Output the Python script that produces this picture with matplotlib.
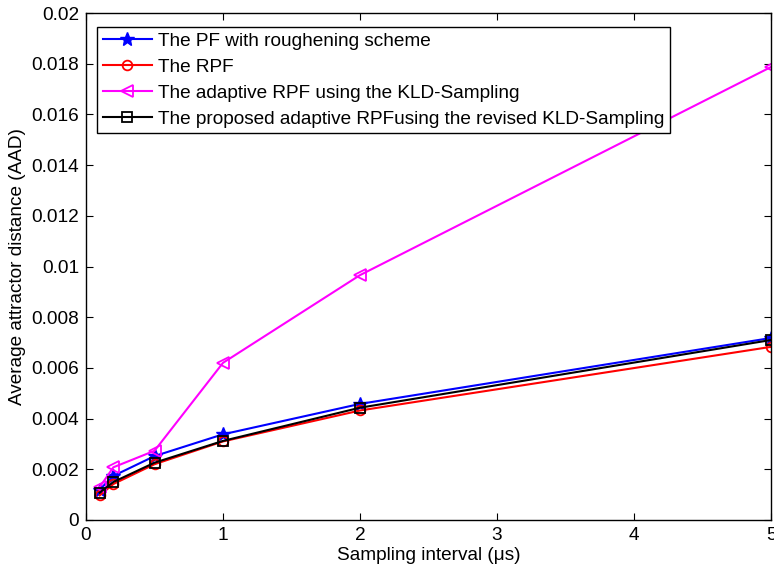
import numpy as np
import matplotlib
matplotlib.use("Agg")
import matplotlib.pyplot as plt

plt.rcParams['font.family'] = ['Liberation Sans', 'DejaVu Sans']

# intervalle d'echantillonnage (us)
x = [0.1, 0.2, 0.5, 1, 2, 5]

pf_rough = [0.00120, 0.00174, 0.00252, 0.00338, 0.00458, 0.00718]
rpf = [0.00097, 0.00142, 0.00220, 0.00310, 0.00432, 0.00683]
adaptive_kld = [0.00130, 0.00208, 0.00273, 0.00620, 0.00966, 0.01787]
proposed = [0.00108, 0.00150, 0.00226, 0.00312, 0.00443, 0.00710]

labels = ["The PF with roughening scheme",
          "The RPF",
          "The adaptive RPF using the KLD-Sampling",
          "The proposed adaptive RPFusing the revised KLD-Sampling"]

fs = 13.7

fig = plt.figure(figsize=(7.74, 5.71), dpi=100)
ax = fig.add_axes([86/774, 51/571, 685/774, 507/571])

ax.plot(x, pf_rough, color="#0000ff", lw=1.5, marker="*", ms=10, label=labels[0])
ax.plot(x, rpf, color="#ff0000", lw=1.5, marker="o", ms=7, mfc="none", mew=1.3, label=labels[1])
ax.plot(x, adaptive_kld, color="#ff00ff", lw=1.5, marker="<", ms=8, mfc="none", mew=1.3, label=labels[2])
ax.plot(x, proposed, color="black", lw=1.5, marker="s", ms=7, mfc="none", mew=1.3, label=labels[3])

ax.set_xlim(0, 5)
ax.set_ylim(0, 0.02)
ax.set_xticks([0, 1, 2, 3, 4, 5])
ax.set_yticks(np.arange(0, 0.0201, 0.002))
ax.set_yticklabels(["0", "0.002", "0.004", "0.006", "0.008", "0.01",
                    "0.012", "0.014", "0.016", "0.018", "0.02"])
ax.tick_params(direction="in", top=True, right=True, labelsize=fs, length=5, pad=5)
for s in ax.spines.values():
    s.set_linewidth(1.0)

ax.set_xlabel("Sampling interval (\u03bcs)", fontsize=fs, labelpad=2)
ax.set_ylabel("Average attractor distance (AAD)", fontsize=fs, labelpad=4)

leg = ax.legend(loc="upper left", bbox_to_anchor=(11/685, 1 - 14/507), borderaxespad=0,
                fontsize=fs, fancybox=False, framealpha=1, edgecolor="black",
                handlelength=2.6, handletextpad=0.3, labelspacing=0.45, borderpad=0.3)
leg.get_frame().set_linewidth(1.0)

fig.savefig("out.png", dpi=100)
